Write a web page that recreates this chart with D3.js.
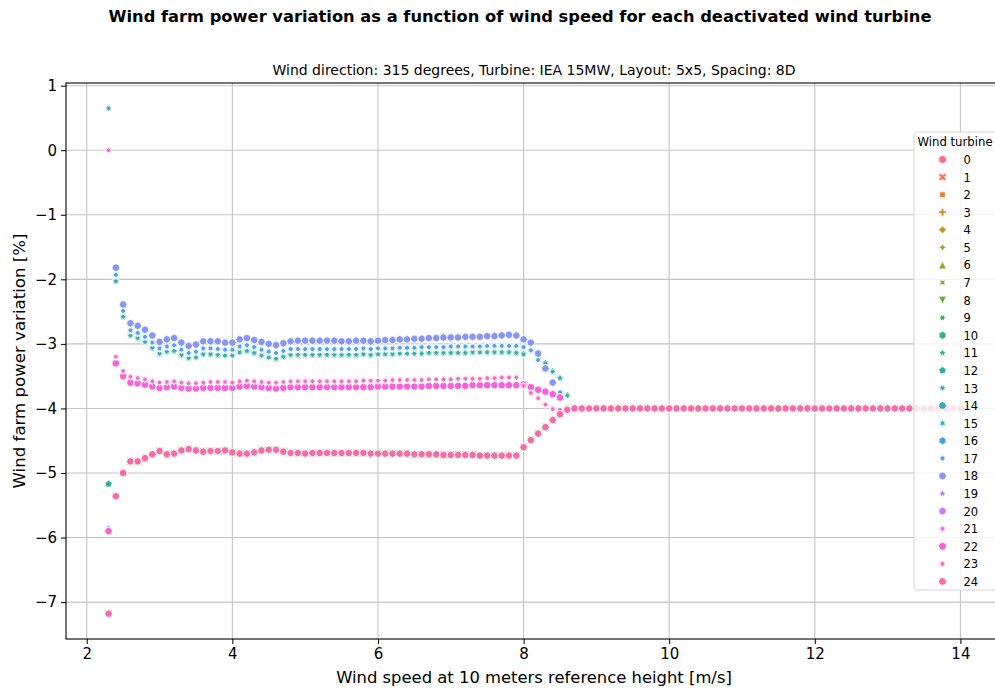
<!DOCTYPE html>
<html>
<head>
<meta charset="utf-8">
<script src="https://cdn.jsdelivr.net/npm/d3@7"></script>
<style>
  body { margin: 0; background: #fff; }
  svg { display: block; font-family: "DejaVu Sans", sans-serif; }
</style>
</head>
<body>
<svg id="chart" width="995" height="691"></svg>
<script>
// ---- data ----
const turbines = d3.range(25).map(String);

// wind speeds of the regular part of each curve
const speeds = [2.4, 2.5, 2.6, 2.7, 2.8, 2.9, 3.0, 3.1, 3.2, 3.3, 3.4, 3.5, 3.6, 3.7, 3.8, 3.9,
  4.0, 4.1, 4.2, 4.3, 4.4, 4.5, 4.6, 4.7, 4.8, 4.9, 5.0, 5.1, 5.2, 5.3, 5.4, 5.5, 5.6, 5.7, 5.8,
  5.9, 6.0, 6.1, 6.2, 6.3, 6.4, 6.5, 6.6, 6.7, 6.8, 6.9, 7.0, 7.1, 7.2, 7.3, 7.4, 7.5, 7.6, 7.7,
  7.8, 7.9, 8.0, 8.1, 8.2, 8.3, 8.4, 8.5, 8.6];

// above ~8.7 m/s every turbine gives the same value
const plateauSpeeds = [8.7, 8.8, 8.9, 9.0, 9.1, 9.2, 9.3, 9.4, 9.5, 9.6, 9.7, 9.8, 9.9, 10.0,
  10.1, 10.2, 10.3, 10.4, 10.5, 10.6, 10.7, 10.8, 10.9, 11.0, 11.1, 11.2, 11.3, 11.4, 11.5, 11.6,
  11.7, 11.8, 11.9, 12.0, 12.1, 12.2, 12.3, 12.4, 12.5, 12.6, 12.7, 12.8, 12.9, 13.0, 13.1, 13.2,
  13.3, 13.4, 13.5, 13.6, 13.7, 13.8, 13.9, 14.0];
const plateauValues = [
  -4.0, -4.0, -4.0, -4.0, -4.0, -4.0, -4.0, -4.0, -4.0,
  -4.0, -4.0, -4.0, -4.0, -4.0, -4.0, -4.0, -4.0, -4.0,
  -4.0, -4.0, -4.0, -4.0, -4.0, -4.0, -4.0, -4.0, -4.0,
  -4.0, -4.0, -4.0, -4.0, -4.0, -4.0, -4.0, -4.0, -4.0,
  -4.0, -4.0, -4.0, -4.0, -4.0, -4.0, -4.0, -4.0, -4.0,
  -4.0, -4.0, -4.0, -4.0, -4.0, -4.0, -4.0, -4.0, -4.0];

// first speed, scattered values per turbine (null = no point)
const firstSpeed = 2.3;
const firstValues = [-7.18, -7.18, -7.18, -7.18, -7.18, -7.18, -7.18, -7.18, -7.18, -7.18, -7.18,
  0.65, -5.17, 0.65, null, null, null, null, null, -5.85, -5.90, 0.00, -5.90, 0.00, -7.18];

// the turbines fall into a few bands that overlap almost exactly
const bandTop = [
  -1.82, -2.39, -2.68, -2.72, -2.78, -2.87, -2.97, -2.93, -2.91, -2.98,
  -3.03, -3.01, -2.96, -2.96, -2.96, -2.98, -2.98, -2.93, -2.91, -2.94,
  -2.97, -3.00, -3.02, -2.99, -2.96, -2.95, -2.95, -2.95, -2.95, -2.95,
  -2.95, -2.96, -2.96, -2.95, -2.95, -2.96, -2.95, -2.94, -2.94, -2.93,
  -2.93, -2.92, -2.92, -2.91, -2.91, -2.90, -2.90, -2.90, -2.89, -2.89,
  -2.89, -2.88, -2.88, -2.87, -2.86, -2.87, -2.93, -2.98, -3.15, -3.38,
  -3.60, -3.84, -4.00];
const bandLightBlue = [
  -1.93, -2.49, -2.79, -2.83, -2.89, -2.98, -3.07, -3.04, -3.02, -3.09,
  -3.14, -3.12, -3.07, -3.07, -3.08, -3.09, -3.09, -3.04, -3.02, -3.05,
  -3.09, -3.12, -3.14, -3.11, -3.08, -3.08, -3.08, -3.08, -3.08, -3.08,
  -3.08, -3.08, -3.08, -3.08, -3.07, -3.08, -3.07, -3.07, -3.07, -3.06,
  -3.06, -3.06, -3.05, -3.05, -3.05, -3.05, -3.04, -3.04, -3.04, -3.04,
  -3.04, -3.03, -3.03, -3.03, -3.03, -3.03, -3.05, -3.10, -3.25, -3.40,
  -3.58, -3.75, -3.98];
const bandTeal = [
  -2.03, -2.58, -2.87, -2.91, -2.97, -3.06, -3.15, -3.12, -3.11, -3.17,
  -3.22, -3.21, -3.16, -3.16, -3.17, -3.18, -3.18, -3.13, -3.11, -3.14,
  -3.18, -3.21, -3.23, -3.20, -3.17, -3.17, -3.17, -3.17, -3.17, -3.17,
  -3.17, -3.17, -3.17, -3.17, -3.16, -3.17, -3.16, -3.16, -3.16, -3.15,
  -3.15, -3.15, -3.15, -3.14, -3.14, -3.14, -3.14, -3.14, -3.14, -3.13,
  -3.13, -3.13, -3.13, -3.13, -3.13, -3.14, -3.16, -3.10, -3.24, -3.30,
  -3.43, -3.53, -3.80];
const bandPinkStar = [
  -3.20, -3.42, -3.51, -3.53, -3.55, -3.58, -3.60, -3.59, -3.58, -3.60,
  -3.61, -3.61, -3.60, -3.59, -3.59, -3.59, -3.60, -3.58, -3.57, -3.58,
  -3.59, -3.60, -3.60, -3.59, -3.58, -3.58, -3.58, -3.58, -3.58, -3.58,
  -3.58, -3.58, -3.58, -3.58, -3.57, -3.57, -3.57, -3.57, -3.56, -3.56,
  -3.56, -3.56, -3.56, -3.55, -3.55, -3.55, -3.55, -3.54, -3.54, -3.54,
  -3.54, -3.53, -3.53, -3.52, -3.52, -3.52, -3.65, -3.76, -3.84, -3.94,
  -4.01, -4.02, -4.00];
const bandMagenta = [
  -3.30, -3.50, -3.60, -3.61, -3.63, -3.66, -3.68, -3.67, -3.66, -3.68,
  -3.69, -3.69, -3.68, -3.68, -3.68, -3.68, -3.68, -3.66, -3.65, -3.66,
  -3.67, -3.68, -3.69, -3.68, -3.67, -3.67, -3.67, -3.67, -3.67, -3.67,
  -3.67, -3.67, -3.67, -3.67, -3.67, -3.67, -3.66, -3.66, -3.66, -3.66,
  -3.66, -3.66, -3.66, -3.65, -3.65, -3.65, -3.65, -3.65, -3.65, -3.64,
  -3.64, -3.64, -3.64, -3.64, -3.64, -3.64, -3.63, -3.67, -3.71, -3.74,
  -3.78, -3.83, -4.00];
const bandBottom = [
  -5.36, -5.00, -4.82, -4.82, -4.77, -4.71, -4.66, -4.71, -4.70, -4.65,
  -4.63, -4.65, -4.67, -4.66, -4.66, -4.65, -4.68, -4.70, -4.70, -4.68,
  -4.65, -4.64, -4.64, -4.67, -4.69, -4.69, -4.70, -4.69, -4.69, -4.69,
  -4.69, -4.69, -4.69, -4.69, -4.69, -4.70, -4.70, -4.70, -4.70, -4.70,
  -4.70, -4.71, -4.71, -4.71, -4.71, -4.72, -4.72, -4.72, -4.72, -4.72,
  -4.73, -4.73, -4.73, -4.73, -4.73, -4.73, -4.60, -4.49, -4.39, -4.29,
  -4.18, -4.09, -4.02];

const turbineBand = [
  bandBottom, bandBottom, bandBottom, bandBottom, bandBottom, bandBottom,
  bandBottom, bandBottom, bandBottom, bandBottom, bandBottom,
  bandTeal, bandTeal, bandTeal, bandTop,
  bandLightBlue, bandTop, bandLightBlue,
  bandTop,
  bandPinkStar, bandMagenta, bandPinkStar, bandMagenta, bandPinkStar,
  bandBottom];

// seaborn's default marker sequence
const markers = ["o", "X", [4, 0, 45], "P", [4, 0, 0], [4, 1, 0], "^", [4, 1, 45], "v",
  [6, 1, 30], [6, 0, 0], [5, 1, 0], [5, 0, 0], [7, 1, 360 / 7 / 2], [7, 0, 0], [6, 1, 0], [6, 0, 0],
  [8, 1, 22.5], [8, 0, 0], [7, 1, 0], [7, 0, 0], [9, 1, 20], [9, 0, 0], [8, 1, 0], [8, 0, 0]];

// ---- husl palette (seaborn husl_palette, h=.01, s=.9, l=.65) ----
const M = [[3.2406, -1.5372, -0.4986], [-0.9689, 1.8758, 0.0415], [0.0557, -0.2040, 1.0570]];

function maxChroma(L, H) {
  const hrad = H * Math.PI / 180, sinH = Math.sin(hrad), cosH = Math.cos(hrad);
  const sub1 = Math.pow(L + 16, 3) / 1560896;
  const sub2 = sub1 > 0.008856 ? sub1 : L / 903.3;
  let result = Infinity;
  M.forEach(([m1, m2, m3]) => {
    const tp = (0.99915 * m1 + 1.05122 * m2 + 1.14460 * m3) * sub2;
    const rbottom = 0.86330 * m3 - 0.17266 * m2;
    const lbottom = 0.12949 * m3 - 0.38848 * m1;
    const bt = (rbottom * sinH + lbottom * cosH) * sub2;
    [0, 1].forEach(t => {
      const C = L * (tp - 1.05122 * t) / (bt + 0.17266 * sinH * t);
      if (C > 0 && C < result) result = C;
    });
  });
  return result;
}

function huslToRgb(H, S, L) {
  const C = maxChroma(L, H) / 100 * S;
  const hrad = H * Math.PI / 180;
  const U = Math.cos(hrad) * C, V = Math.sin(hrad) * C;
  const t = (L + 16) / 116;
  const Y = Math.pow(t, 3) > 0.008856 ? Math.pow(t, 3) : (116 * t - 16) / 903.3;
  const varU = U / (13 * L) + 0.19784, varV = V / (13 * L) + 0.46834;
  const X = -(9 * Y * varU) / ((varU - 4) * varV - varU * varV);
  const Z = (9 * Y - 15 * varV * Y - varV * X) / (3 * varV);
  const rgb = M.map(r => r[0] * X + r[1] * Y + r[2] * Z).map(c =>
    c <= 0.0031308 ? 12.92 * c : 1.055 * Math.pow(c, 1 / 2.4) - 0.055);
  return d3.rgb(...rgb.map(c => Math.max(0, Math.min(1, c)) * 255)).formatHex();
}

const palette = turbines.map((d, i) => huslToRgb(((i / 25 + 0.01) % 1) * 359, 0.9 * 99, 0.65 * 99));

// ---- marker shapes (matplotlib style, r = half the marker size) ----
function markerPath(m, r) {
  const poly = pts => "M" + pts.map(p => p[0].toFixed(2) + "," + p[1].toFixed(2)).join("L") + "Z";
  if (m === "o") return d3.symbol(d3.symbolCircle, Math.PI * r * r)();
  if (m === "X") return poly([[-1, -2], [0, -1], [1, -2], [2, -1], [1, 0], [2, 1], [1, 2], [0, 1],
    [-1, 2], [-2, 1], [-1, 0], [-2, -1]].map(p => [p[0] * r / 2, p[1] * r / 2]));
  if (m === "P") return poly([[-1, -3], [1, -3], [1, -1], [3, -1], [3, 1], [1, 1], [1, 3], [-1, 3],
    [-1, 1], [-3, 1], [-3, -1], [-1, -1]].map(p => [p[0] * r / 3, p[1] * r / 3]));
  if (m === "^") return poly([[0, -r], [-r, r], [r, r]]);
  if (m === "v") return poly([[0, r], [-r, -r], [r, -r]]);
  const [n, star, angle] = m;
  const k = star ? 2 * n : n;
  return poly(d3.range(k).map(i => {
    const th = 2 * Math.PI * i / k + Math.PI / 2 + angle * Math.PI / 180;
    const rr = star && i % 2 ? r * 0.5 : r;
    return [rr * Math.cos(th), -rr * Math.sin(th)];
  }));
}

// ---- layout ----
const svg = d3.select("#chart");
const plotLeft = 66, plotRight = 1003, plotTop = 83, plotBottom = 639;

const points = [];
turbines.forEach((t, i) => {
  if (firstValues[i] !== null) points.push({ t: i, x: firstSpeed, y: firstValues[i] });
  speeds.forEach((s, j) => points.push({ t: i, x: s, y: turbineBand[i][j] }));
  plateauSpeeds.forEach((s, j) => points.push({ t: i, x: s, y: plateauValues[j] }));
});

// matplotlib-like 5% margins
const xExt = d3.extent(points, d => d.x), yExt = d3.extent(points, d => d.y);
const xPad = (xExt[1] - xExt[0]) * 0.05, yPad = (yExt[1] - yExt[0]) * 0.05;
const x = d3.scaleLinear().domain([xExt[0] - xPad, xExt[1] + xPad]).range([plotLeft, plotRight]);
const y = d3.scaleLinear().domain([yExt[0] - yPad, yExt[1] + yPad]).range([plotBottom, plotTop]);

const xTicks = [2, 4, 6, 8, 10, 12, 14];
const yTicks = [1, 0, -1, -2, -3, -4, -5, -6, -7];
const fmt = v => String(v).replace("-", "\u2212");

// grid
svg.append("g").selectAll("line").data(xTicks).join("line")
  .attr("x1", d => x(d)).attr("x2", d => x(d)).attr("y1", plotTop).attr("y2", plotBottom)
  .attr("stroke", "#c4c4c4").attr("stroke-width", 1.1);
svg.append("g").selectAll("line").data(yTicks).join("line")
  .attr("x1", plotLeft).attr("x2", plotRight).attr("y1", d => y(d)).attr("y2", d => y(d))
  .attr("stroke", "#c4c4c4").attr("stroke-width", 1.1);

// points
svg.append("g").selectAll("path").data(points).join("path")
  .attr("d", d => markerPath(markers[d.t], 3.85))
  .attr("transform", d => `translate(${x(d.x)},${y(d.y)})`)
  .attr("fill", d => palette[d.t])
  .attr("stroke", "#fff").attr("stroke-width", 0.8);

// axes
const xAxis = svg.append("g").attr("transform", `translate(0,${plotBottom})`)
  .call(d3.axisBottom(x).tickValues(xTicks).tickFormat(fmt).tickSize(5).tickPadding(4));
const yAxis = svg.append("g").attr("transform", `translate(${plotLeft},0)`)
  .call(d3.axisLeft(y).tickValues(yTicks).tickFormat(fmt).tickSize(5).tickPadding(4));
[xAxis, yAxis].forEach(g => {
  g.select(".domain").remove();
  g.selectAll("text").attr("font-size", 15).attr("fill", "#000")
    .attr("font-family", "DejaVu Sans");
  g.selectAll("line").attr("stroke", "#000").attr("stroke-width", 1);
});

// frame
svg.append("rect").attr("x", plotLeft).attr("y", plotTop)
  .attr("width", plotRight - plotLeft).attr("height", plotBottom - plotTop)
  .attr("fill", "none").attr("stroke", "#000").attr("stroke-width", 1.1);

// titles
svg.append("text").attr("x", 520).attr("y", 22).attr("text-anchor", "middle")
  .attr("font-size", 16.3).attr("font-weight", "bold")
  .text("Wind farm power variation as a function of wind speed for each deactivated wind turbine");
svg.append("text").attr("x", 534).attr("y", 75).attr("text-anchor", "middle")
  .attr("font-size", 14)
  .text("Wind direction: 315 degrees, Turbine: IEA 15MW, Layout: 5x5, Spacing: 8D");
svg.append("text").attr("x", 534).attr("y", 683).attr("text-anchor", "middle")
  .attr("font-size", 16.4).text("Wind speed at 10 meters reference height [m/s]");
svg.append("text").attr("transform", `translate(25,${(plotTop + plotBottom) / 2}) rotate(-90)`)
  .attr("text-anchor", "middle").attr("font-size", 16.6)
  .text("Wind farm power variation [%]");

// legend
const legend = svg.append("g").attr("transform", "translate(914,132)");
legend.append("rect").attr("width", 88).attr("height", 458).attr("rx", 3)
  .attr("fill", "#fff").attr("fill-opacity", 0.8)
  .attr("stroke", "#d6d6d6").attr("stroke-width", 1);
legend.append("text").attr("x", 41).attr("y", 13.5).attr("text-anchor", "middle")
  .attr("font-size", 11.7).text("Wind turbine");
const entry = legend.selectAll("g.entry").data(turbines).join("g")
  .attr("class", "entry")
  .attr("transform", (d, i) => `translate(0,${27.5 + i * 17.58})`);
entry.append("path")
  .attr("d", (d, i) => markerPath(markers[i], 4))
  .attr("transform", "translate(28.5,0)")
  .attr("fill", (d, i) => palette[i])
  .attr("stroke", "#fff").attr("stroke-width", 0.8);
entry.append("text").attr("x", 49.5).attr("y", 4.5)
  .attr("font-size", 11.5).text(d => d);
</script>
</body>
</html>
